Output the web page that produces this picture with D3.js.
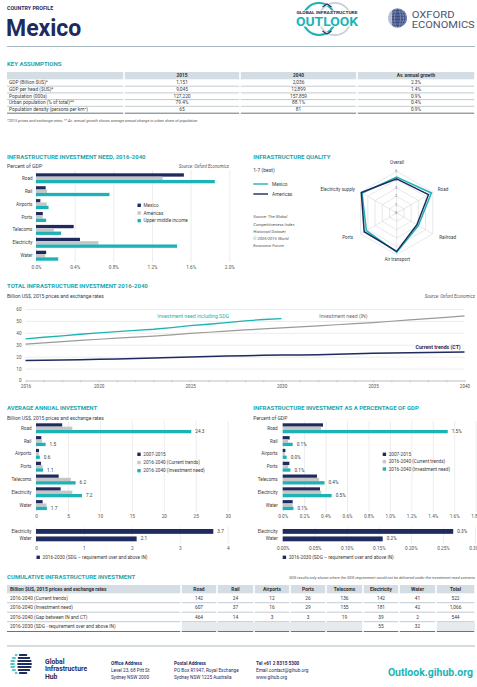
<!DOCTYPE html>
<html><head><meta charset="utf-8">
<script src="https://cdn.jsdelivr.net/npm/d3@7"></script>
<style>
body{margin:0;background:#fff;}
svg{display:block;font-family:Roboto,"Open Sans",sans-serif;}
</style></head><body>
<script>
// ---------------- DATA ----------------
const keyCols = ["2015", "2040", "Av. annual growth"];
const keyRows = ["GDP (Billion $US)*", "GDP per head ($US)*", "Population (000s)", "Urban population (% of total)**", "Population density (persons per km²)"];
const key2015 = ["1,151", "9,045", "127,220", "79.4%", "65"];
const key2040 = ["2,036", "12,899", "157,859", "88.1%", "81"];
const keyGrowth = ["2.3%", "1.4%", "0.9%", "0.4%", "0.9%"];

const sectors = ["Road", "Rail", "Airports", "Ports", "Telecoms", "Electricity", "Water"];
const needSeries = ["Mexico", "Americas", "Upper middle income"];
const needMexico = [1.53, 0.10, 0.045, 0.07, 0.39, 0.455, 0.105];
const needAmericas = [1.31, 0.115, 0.11, 0.07, 0.185, 0.645, 0.095];
const needUMI = [1.85, 0.76, 0.13, 0.105, 0.26, 1.46, 0.23];
const needTicks = [0, 0.4, 0.8, 1.2, 1.6, 2.0];

const qualityAxes = ["Overall", "Road", "Railroad", "Air transport", "Ports", "Electricity supply"];
const qualitySeries = ["Mexico", "Americas"];
const qualityMexico = [4.3, 4.8, 3.0, 4.7, 4.2, 4.8];
const qualityAmericas = [4.1, 4.4, 2.8, 4.6, 4.5, 4.9];
const qualityRings = [1, 2, 3, 4, 5];
const qualityRingLabels = [0, 1, 2, 3, 4, 5];

const years = [2016, 2017, 2018, 2019, 2020, 2021, 2022, 2023, 2024, 2025, 2026, 2027, 2028, 2029, 2030, 2031, 2032, 2033, 2034, 2035, 2036, 2037, 2038, 2039, 2040];
const yearTicks = [2016, 2020, 2025, 2030, 2035, 2040];
const totalSDG = [35.0, 36.3, 37.5, 38.8, 40.0, 41.0, 42.0, 43.0, 44.4, 46.0, 47.2, 48.5, 50.0, 51.2, 52.0];
const totalIN = [30.6, 31.6, 32.6, 33.6, 34.6, 35.5, 36.4, 37.3, 38.3, 39.5, 40.5, 41.4, 42.4, 43.3, 44.2, 45.0, 45.9, 46.8, 47.7, 48.6, 49.7, 50.8, 51.9, 53.0, 54.2];
const totalCT = [16.7, 17.0, 17.3, 17.5, 17.8, 18.1, 18.5, 18.9, 19.2, 19.7, 20.1, 20.5, 20.8, 21.1, 21.4, 21.5, 21.7, 22.1, 22.5, 22.8, 23.0, 23.2, 23.5, 23.7, 23.9];
const totalTicksY = [0, 10, 20, 30, 40, 50, 60];

const periodSeries = ["2007-2015", "2016-2040 (Current trends)", "2016-2040 (Investment need)"];
const avg0715 = [4.1, 0.83, 0.47, 0.78, 3.55, 3.86, 1.04];
const avgCT = [5.68, 0.96, 0.48, 1.04, 5.44, 5.68, 1.64];
const avgIN = [24.3, 1.5, 0.6, 1.1, 6.2, 7.2, 1.7];
const avgTicks = [0, 5, 10, 15, 20, 25, 30];
const sdgSectors = ["Electricity", "Water"];
const sdgLabel = "2016-2030 (SDG – requirement over and above IN)";
const sdgAvg = [3.7, 2.1];
const sdgAvgTicks = [0, 1, 2, 3, 4];

const gdp0715 = [0.376, 0.065, 0.025, 0.062, 0.32, 0.348, 0.093];
const gdpCT = [0.358, 0.05, 0.02, 0.05, 0.34, 0.36, 0.093];
const gdpIN = [1.54, 0.093, 0.037, 0.072, 0.39, 0.457, 0.1];
const gdpTicks = [0, 0.2, 0.4, 0.6, 0.8, 1.0, 1.2, 1.4, 1.6, 1.8];
const sdgGdp = [0.266, 0.156];
const sdgGdpTicks = [0, 0.05, 0.10, 0.15, 0.20, 0.25, 0.30];

const cumHeader = "Billion $US, 2015 prices and exchange rates";
const cumCols = ["Road", "Rail", "Airports", "Ports", "Telecoms", "Electricity", "Water", "Total"];
const cumRows = ["2016-2040 (Current trends)", "2016-2040 (Investment need)", "2016-2040 (Gap between IN and CT)", "2016-2030 (SDG - requirement over and above IN)"];
const cumCT = ["142", "24", "12", "26", "136", "142", "41", "522"];
const cumIN = ["607", "37", "16", "29", "155", "181", "42", "1,066"];
const cumGap = ["464", "14", "3", "3", "19", "39", "2", "544"];
const cumSDG = ["", "", "", "", "", "55", "32", ""];

// ---------------- STYLE ----------------
const W = 477, H = 687;
const NAVY = "#1f2b5e", TEAL = "#1db3b6", GREYBAR = "#c6c6c6", TITLE = "#1aa6ae";
const TXT = "#3b3b3b", TXT2 = "#555", GRID = "#e1e1e1", HDR = "#d4dde3", LINEC = "#8696a1";

const svg = d3.select("body").append("svg").attr("width", W).attr("height", H);
svg.append("rect").attr("width", W).attr("height", H).attr("fill", "#fff");

function T(g, x, y, s, o = {}) {
  const t = g.append("text").attr("x", x).attr("y", y).text(s)
    .attr("font-size", o.size || 5).attr("fill", o.fill || TXT)
    .attr("dominant-baseline", o.base || "central");
  if (o.w) t.attr("font-weight", o.w);
  if (o.a) t.attr("text-anchor", o.a);
  if (o.i) t.attr("font-style", "italic");
  if (o.ls != null) t.attr("letter-spacing", o.ls);
  if (o.len) t.attr("textLength", o.len).attr("lengthAdjust", "spacingAndGlyphs");
  return t;
}
function title(x, y, s) { return T(svg, x, y, s, { size: 6, w: 700, fill: TITLE }); }

// ---------------- HEADER ----------------
T(svg, 7, 8, "COUNTRY PROFILE", { size: 5.3, w: 700, fill: NAVY });
T(svg, 6, 36, "Mexico", { size: 23, w: 700, fill: NAVY, base: "alphabetic" });
svg.append("line").attr("x1", 7).attr("x2", 475).attr("y1", 46.5).attr("y2", 46.5).attr("stroke", "#a9b9c0").attr("stroke-width", 1);

// Global Infrastructure Outlook logo
const lg = svg.append("g");
lg.append("circle").attr("cx", 319).attr("cy", 19).attr("r", 16).attr("fill", "none").attr("stroke", TEAL).attr("stroke-width", 2.2);
lg.append("circle").attr("cx", 335).attr("cy", 19).attr("r", 16).attr("fill", "none").attr("stroke", "#c8d4da").attr("stroke-width", 1.8);
lg.append("rect").attr("x", 294).attr("y", 10.5).attr("width", 66).attr("height", 16).attr("fill", "#fff");
T(lg, 327, 13.2, "GLOBAL INFRASTRUCTURE", { size: 3.4, w: 700, fill: NAVY, a: "middle", len: 61 });
T(lg, 327, 25.7, "OUTLOOK", { size: 12.5, w: 700, fill: TEAL, a: "middle", base: "alphabetic", len: 62 });
lg.append("path").attr("d", "M322.5,7 L327,3.8 L331.5,7").attr("fill", "none").attr("stroke", NAVY).attr("stroke-width", 1.1);
lg.append("path").attr("d", "M322.5,31 L327,34.2 L331.5,31").attr("fill", "none").attr("stroke", NAVY).attr("stroke-width", 1.1);

// Oxford Economics logo
const ox = svg.append("g");
ox.append("circle").attr("cx", 397.5).attr("cy", 18).attr("r", 9.5).attr("fill", "#3b4b80");
[3, 6, 8.5].forEach(rx => ox.append("ellipse").attr("cx", 397.5).attr("cy", 18).attr("rx", rx).attr("ry", 9.5).attr("fill", "none").attr("stroke", "#a8b8d8").attr("stroke-width", 0.45));
[-6, -3, 0, 3, 6].forEach(dy => ox.append("line").attr("x1", 397.5 - Math.sqrt(90 - dy * dy)).attr("x2", 397.5 + Math.sqrt(90 - dy * dy)).attr("y1", 18 + dy).attr("y2", 18 + dy).attr("stroke", "#a8b8d8").attr("stroke-width", 0.45));
ox.append("rect").attr("x", 386).attr("y", 8).attr("width", 6).attr("height", 20).attr("fill", "#fff").attr("opacity", 0.55);
T(ox, 411.7, 14.6, "OXFORD", { size: 8.6, fill: "#4b5573", len: 43 });
T(ox, 411.7, 24.5, "ECONOMICS", { size: 8.6, fill: "#4b5573", len: 63 });

// ---------------- KEY ASSUMPTIONS ----------------
title(7, 63.5, "KEY ASSUMPTIONS");
const kc = [7, 124, 240, 357, 475];
const kt = svg.append("g");
kc.slice(0, -1).forEach((c, i) => {
  kt.append("rect").attr("x", c + (i ? 0.8 : 0)).attr("y", 72).attr("width", kc[i + 1] - c - (i ? 1.6 : 0.8)).attr("height", 7.3).attr("fill", HDR);
});
keyCols.forEach((h, i) => T(kt, (kc[i + 1] + kc[i + 2]) / 2, 75.7, h, { size: 4.8, w: 700, a: "middle", fill: "#333" }));
const keyCY = [82.7, 89.4, 96.1, 102.8, 109.6];
const keyLY = [86.2, 92.9, 99.6, 106.3, 113.2];
const keyVals = [key2015, key2040, keyGrowth];
keyRows.forEach((r, j) => {
  T(kt, 9, keyCY[j], r, { size: 4.8, fill: TXT });
  keyVals.forEach((arr, i) => T(kt, (kc[i + 1] + kc[i + 2]) / 2, keyCY[j], arr[j], { size: 4.8, a: "middle", fill: TXT }));
  kc.slice(0, -1).forEach((c, i) => kt.append("line").attr("x1", c + (i ? 0.8 : 0)).attr("x2", kc[i + 1] - 0.8)
    .attr("y1", keyLY[j]).attr("y2", keyLY[j]).attr("stroke", j === keyRows.length - 1 ? "#55656f" : LINEC).attr("stroke-width", j === keyRows.length - 1 ? 0.9 : 0.5));
});
T(svg, 7, 120, "*2015 prices and exchange rates; ** Av. annual growth shows average annual change in urban share of population", { size: 3.9, i: true, fill: "#555" });

// ---------------- HORIZONTAL BAR HELPER ----------------
function hbars(o) {
  const g = svg.append("g");
  const y = d3.scaleBand().domain(o.cats).range([o.y0, o.y1]).paddingInner(o.pad);
  const ys = d3.scaleBand().domain(d3.range(o.series.length)).range([0, y.bandwidth()]);
  const ax = g.append("g").attr("transform", `translate(0,${o.gy1})`)
    .call(d3.axisBottom(o.x).tickValues(o.ticks).tickFormat(o.fmt).tickSize(-(o.gy1 - o.gy0)).tickPadding(o.tp || 3));
  ax.select(".domain").remove();
  ax.selectAll(".tick line").attr("stroke", GRID).attr("stroke-width", 0.6);
  ax.attr("font-size", o.tsize || 4.7).attr("font-family", null);
  ax.selectAll(".tick text").attr("fill", TXT2);
  o.series.forEach((s, i) => {
    g.append("g").selectAll("rect").data(s.vals).join("rect")
      .attr("x", o.x(0)).attr("y", (d, j) => y(o.cats[j]) + ys(i))
      .attr("width", d => o.x(d) - o.x(0)).attr("height", ys.bandwidth()).attr("fill", s.color);
    if (s.labels) {
      g.append("g").selectAll("text").data(s.vals).join("text")
        .attr("x", d => o.x(d) + 4).attr("y", (d, j) => y(o.cats[j]) + ys(i) + ys.bandwidth() / 2)
        .attr("dominant-baseline", "central").attr("font-size", 4.7).attr("fill", TXT)
        .text(s.labels);
    }
  });
  g.append("g").selectAll("text").data(o.cats).join("text")
    .attr("x", o.lx).attr("y", d => y(d) + y.bandwidth() / 2).attr("text-anchor", "end")
    .attr("dominant-baseline", "central").attr("font-size", o.csize || 4.6).attr("fill", TXT).text(d => d);
  return g;
}
function legend(x, ys, labels, colors, size = 4.7) {
  const g = svg.append("g");
  labels.forEach((l, i) => {
    g.append("rect").attr("x", x).attr("y", ys[i] - 1.7).attr("width", 3.4).attr("height", 3.4).attr("fill", colors[i]);
    T(g, x + 6, ys[i], l, { size, fill: TXT });
  });
}

// ---------------- INFRASTRUCTURE INVESTMENT NEED ----------------
title(7, 156, "INFRASTRUCTURE INVESTMENT NEED, 2016-2040");
T(svg, 7, 166.3, "Percent of GDP", { size: 5.2, fill: TXT });
T(svg, 229, 166.3, "Source: Oxford Economics", { size: 4.4, i: true, a: "end", fill: TXT2 });
hbars({
  cats: sectors, y0: 173.3, y1: 260.7, pad: 0.225,
  x: d3.scaleLinear().domain([0, 2]).range([36, 229.3]),
  ticks: needTicks, fmt: d => d.toFixed(1) + "%", gy0: 170, gy1: 262.3, lx: 32.5,
  series: [{ vals: needMexico, color: NAVY }, { vals: needAmericas, color: GREYBAR }, { vals: needUMI, color: TEAL }]
});
legend(137.5, [205.3, 213, 220.7], needSeries, [NAVY, GREYBAR, TEAL]);

// ---------------- INFRASTRUCTURE QUALITY (radar) ----------------
title(253.3, 156, "INFRASTRUCTURE QUALITY");
T(svg, 253.3, 170, "1-7 (best)", { size: 5, fill: TXT });
const rq = svg.append("g");
[[TEAL, qualitySeries[0], 184], [NAVY, qualitySeries[1], 194]].forEach(([c, l, yy]) => {
  rq.append("line").attr("x1", 253.3).attr("x2", 268).attr("y1", yy).attr("y2", yy).attr("stroke", c).attr("stroke-width", 1.4);
  T(rq, 272, yy, l, { size: 4.8, fill: TXT });
});
["Source: The Global", "Competitiveness Index", "Historical Dataset", "© 2005-2015 World", "Economic Forum"].forEach((s, i) =>
  T(rq, 253.3, [216.7, 224, 231.2, 238.4, 245.7][i], s, { size: 4.2, i: true, fill: TXT2 }));

const cx = 396.7, cy = 213;
const r = d3.scaleLinear().domain([0, 5]).range([0, 41.7]);
const ang = d3.scaleLinear().domain([0, qualityAxes.length]).range([0, 2 * Math.PI]);
const radar = rq.append("g").attr("transform", `translate(${cx},${cy})`);
const ringLine = d3.lineRadial().angle((d, i) => ang(i)).radius(d => r(d)).curve(d3.curveLinearClosed);
qualityRings.forEach(k => radar.append("path").attr("d", ringLine(qualityAxes.map(() => k))).attr("fill", "none").attr("stroke", "#d9d9d9").attr("stroke-width", 0.6));
qualityAxes.forEach((a, i) => {
  const th = ang(i);
  radar.append("line").attr("x1", 0).attr("y1", 0).attr("x2", r(5) * Math.sin(th)).attr("y2", -r(5) * Math.cos(th)).attr("stroke", "#d9d9d9").attr("stroke-width", 0.6);
});
qualityRingLabels.forEach(k => T(radar, -0.6, -r(k), String(k), { size: 3.6, a: "middle", fill: "#666" }));
radar.append("path").attr("d", ringLine(qualityMexico)).attr("fill", "none").attr("stroke", TEAL).attr("stroke-width", 1.5);
radar.append("path").attr("d", ringLine(qualityAmericas)).attr("fill", "none").attr("stroke", NAVY).attr("stroke-width", 1.5);
const qpos = [[0.3, -50.5, "middle"], [41, -23.3, "start"], [42.5, 24, "start"], [0.6, 46.8, "middle"], [-43.5, 24, "end"], [-41.7, -23.3, "end"]];
qualityAxes.forEach((a, i) => T(radar, qpos[i][0], qpos[i][1], a, { size: 4.6, a: qpos[i][2], fill: TXT }));

// ---------------- TOTAL INFRASTRUCTURE INVESTMENT ----------------
title(7, 285.3, "TOTAL INFRASTRUCTURE INVESTMENT 2016-2040");
T(svg, 7, 295.8, "Billion US$, 2015 prices and exchange rates", { size: 5, fill: TXT });
T(svg, 475, 296.3, "Source: Oxford Economics", { size: 4.4, i: true, a: "end", fill: TXT2 });
const tx = d3.scaleLinear().domain([2016, 2040]).range([25.5, 464.5]);
const ty = d3.scaleLinear().domain([0, 60]).range([380.5, 309]);
const tg = svg.append("g");
const yax = tg.append("g").attr("transform", "translate(25.5,0)")
  .call(d3.axisLeft(ty).tickValues(totalTicksY).tickSize(-(464.5 - 25.5)).tickPadding(4));
yax.select(".domain").remove();
yax.selectAll(".tick line").attr("stroke", GRID).attr("stroke-width", 0.6);
yax.attr("font-size", 4.6).attr("font-family", null);
yax.selectAll(".tick text").attr("fill", TXT2);
const minor = tg.append("g").attr("transform", "translate(0,380.5)")
  .call(d3.axisBottom(tx).tickValues(years).tickFormat("").tickSize(1.8).tickSizeOuter(0));
minor.selectAll(".tick line").attr("stroke", "#aaa").attr("stroke-width", 0.5);
minor.select(".domain").attr("stroke", "#aaa").attr("stroke-width", 0.6);
const xax = tg.append("g").attr("transform", "translate(0,380.5)")
  .call(d3.axisBottom(tx).tickValues(yearTicks).tickFormat(d3.format("d")).tickSize(0).tickPadding(4.5));
xax.select(".domain").remove();
xax.attr("font-size", 4.6).attr("font-family", null);
xax.selectAll(".tick text").attr("fill", TXT2);
const ln = d3.line().x(d => tx(d[0])).y(d => ty(d[1]));
tg.append("path").attr("d", ln(years.map((yv, i) => [yv, totalIN[i]]))).attr("fill", "none").attr("stroke", "#9a9a9a").attr("stroke-width", 1.2);
tg.append("path").attr("d", ln(totalSDG.map((v, i) => [years[i], v]))).attr("fill", "none").attr("stroke", TEAL).attr("stroke-width", 1.3);
tg.append("path").attr("d", ln(years.map((yv, i) => [yv, totalCT[i]]))).attr("fill", "none").attr("stroke", NAVY).attr("stroke-width", 1.5);
T(tg, 157.3, 315.7, "Investment need including SDG", { size: 5.2, fill: TEAL });
T(tg, 319.3, 315.7, "Investment need (IN)", { size: 5.2, fill: "#6f6f6f" });
T(tg, 460.7, 346.7, "Current trends (CT)", { size: 5.2, w: 700, a: "end", fill: NAVY });

// ---------------- AVERAGE ANNUAL INVESTMENT ----------------
title(7, 407.7, "AVERAGE ANNUAL INVESTMENT");
T(svg, 7, 418.3, "Billion US$, 2015 prices and exchange rates", { size: 5, fill: TXT });
hbars({
  cats: sectors, y0: 423.3, y1: 510.1, pad: 0.22,
  x: d3.scaleLinear().domain([0, 30]).range([36, 227.7]),
  ticks: avgTicks, fmt: d3.format("d"), gy0: 421, gy1: 512, lx: 31.5,
  series: [{ vals: avg0715, color: NAVY }, { vals: avgCT, color: GREYBAR }, { vals: avgIN, color: TEAL, labels: d => d.toFixed(1) }]
});
legend(137.3, [454.3, 462.5, 470.7], periodSeries, [NAVY, GREYBAR, TEAL]);
hbars({
  cats: sdgSectors, y0: 529, y1: 541.3, pad: 0.35,
  x: d3.scaleLinear().domain([0, 4]).range([36, 227.7]),
  ticks: sdgAvgTicks, fmt: d3.format("d"), gy0: 527, gy1: 543.5, lx: 31.5,
  series: [{ vals: sdgAvg, color: NAVY, labels: d => d.toFixed(1) }]
});
legend(36.5, [557.3], [sdgLabel], [NAVY]);

// ---------------- INVESTMENT AS % OF GDP ----------------
title(253.3, 407.7, "INFRASTRUCTURE INVESTMENT AS A PERCENTAGE OF GDP");
T(svg, 253.3, 418.3, "Percent of GDP", { size: 5, fill: TXT });
hbars({
  cats: sectors, y0: 423.3, y1: 510.1, pad: 0.22,
  x: d3.scaleLinear().domain([0, 1.8]).range([282.7, 475.6]),
  ticks: gdpTicks, fmt: d => d.toFixed(1) + "%", gy0: 421, gy1: 512, lx: 277.7,
  series: [{ vals: gdp0715, color: NAVY }, { vals: gdpCT, color: GREYBAR }, { vals: gdpIN, color: TEAL, labels: d => d.toFixed(1) + "%" }]
});
legend(382.7, [454.3, 461.7, 469], periodSeries, [NAVY, GREYBAR, TEAL]);
hbars({
  cats: sdgSectors, y0: 529, y1: 541.3, pad: 0.35,
  x: d3.scaleLinear().domain([0, 0.3]).range([282.7, 475]),
  ticks: sdgGdpTicks, fmt: d => d.toFixed(2) + "%", gy0: 527, gy1: 543.5, lx: 277.7,
  series: [{ vals: sdgGdp, color: NAVY, labels: d => d.toFixed(1) + "%" }]
});
legend(282.7, [557.3], [sdgLabel], [NAVY]);

// ---------------- CUMULATIVE TABLE ----------------
title(7, 576.7, "CUMULATIVE INFRASTRUCTURE INVESTMENT");
T(svg, 475, 577, "SDG results only shown where the SDG requirement would not be delivered under the investment need scenario", { size: 3.9, i: true, a: "end", fill: "#555" });
const cc = [7, 181, 217, 254, 290, 326, 363, 399, 436, 475];
const ct = svg.append("g");
cc.slice(0, -1).forEach((c, i) => ct.append("rect").attr("x", c + (i ? 0.8 : 0)).attr("y", 585).attr("width", cc[i + 1] - c - (i ? 1.6 : 0.8)).attr("height", 8.3).attr("fill", HDR));
T(ct, 10, 589.2, cumHeader, { size: 4.9, w: 700, fill: "#333" });
cumCols.forEach((h, i) => T(ct, (cc[i + 1] + cc[i + 2]) / 2, 589.2, h, { size: 4.9, w: 700, a: "middle", fill: "#333" }));
const cumVals = [cumCT, cumIN, cumGap, cumSDG];
const cumCY = [598.3, 607.8, 617.2, 626.7];
const cumLY = [602.7, 612.2, 621.7, 631.5];
ct.append("rect").attr("x", cc[1] + 0.8).attr("y", 622.4).attr("width", cc[6] - cc[1] - 1.6).attr("height", 8.6).attr("fill", "#e6eaed");
ct.append("rect").attr("x", cc[8] + 0.8).attr("y", 622.4).attr("width", cc[9] - cc[8] - 0.8).attr("height", 8.6).attr("fill", "#e6eaed");
cumRows.forEach((rw, j) => {
  T(ct, 10, cumCY[j], rw, { size: 4.8, fill: TXT });
  cumVals[j].forEach((v, i) => T(ct, (cc[i + 1] + cc[i + 2]) / 2, cumCY[j], v, { size: 4.8, a: "middle", fill: TXT }));
  cc.slice(0, -1).forEach((c, i) => ct.append("line").attr("x1", c + (i ? 0.8 : 0)).attr("x2", cc[i + 1] - 0.8)
    .attr("y1", cumLY[j]).attr("y2", cumLY[j]).attr("stroke", j === cumRows.length - 1 ? "#55656f" : LINEC).attr("stroke-width", j === cumRows.length - 1 ? 0.9 : 0.5));
});

// ---------------- FOOTER ----------------
svg.append("line").attr("x1", 7).attr("x2", 475).attr("y1", 646).attr("y2", 646).attr("stroke", "#a9b9c0").attr("stroke-width", 1);
const fl = svg.append("g");
const lcx = 21, lcy = 664, lr = 11;
[-9, -6, -3, 0, 3, 6, 9].forEach(dy => {
  const hw = Math.sqrt(lr * lr - dy * dy);
  fl.append("rect").attr("x", lcx - hw * 0.35).attr("y", lcy + dy - 1).attr("width", hw * 1.35).attr("height", 2).attr("rx", 1).attr("fill", NAVY);
  fl.append("rect").attr("x", lcx - hw).attr("y", lcy + dy - 0.8).attr("width", hw * 0.45).attr("height", 1.6).attr("rx", 0.8).attr("fill", TEAL);
});
T(fl, 45, 661.5, "Global", { size: 6.8, w: 700, fill: NAVY });
T(fl, 45, 669.0, "Infrastructure", { size: 6.8, w: 700, fill: NAVY });
T(fl, 45, 676.5, "Hub", { size: 6.8, w: 700, fill: NAVY });
const addr = [[111, ["Office Address", "Level 23, 68 Pitt St", "Sydney NSW 2000"]],
  [174, ["Postal Address", "PO Box R1947, Royal Exchange", "Sydney NSW 1225 Australia"]],
  [256, ["Tel +61 2 8315 5300", "Email contact@gihub.org", "www.gihub.org"]]];
addr.forEach(([x, lines]) => lines.forEach((s, i) => {
  T(fl, x, [663.3, 670.5, 677.3][i], s, { size: 4.7, w: i === 0 ? 700 : 400, fill: NAVY });
}));
T(fl, 473, 672.7, "Outlook.gihub.org", { size: 10.5, w: 700, a: "end", fill: TEAL });
</script>
</body></html>
